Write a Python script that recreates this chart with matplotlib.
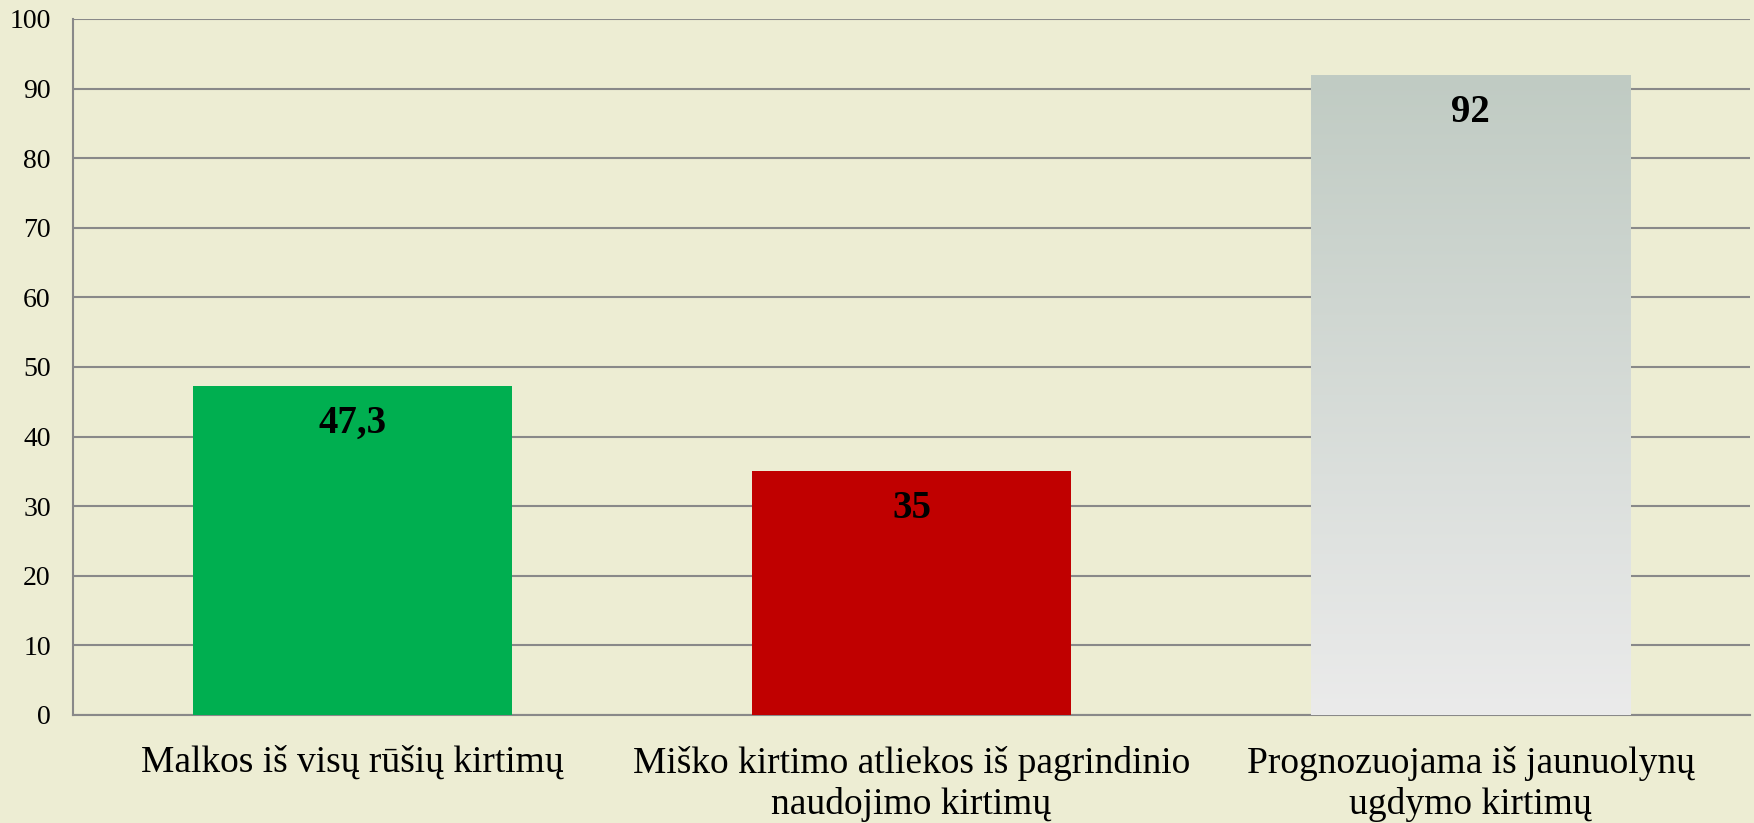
import numpy as np
import matplotlib.pyplot as plt
from matplotlib.colors import LinearSegmentedColormap

categories = ["Malkos iš visų rūšių kirtimų",
              "Miško kirtimo atliekos iš pagrindinio\nnaudojimo kirtimų",
              "Prognozuojama iš jaunuolynų\nugdymo kirtimų"]
values = [47.3, 35, 92]
value_labels = ["47,3", "35", "92"]
colors = ["#00AF50", "#C00000", "#C0CBC3"]

bg = "#EDEDD3"
plt.rcParams['font.family'] = ['Liberation Serif', 'DejaVu Serif']

fig = plt.figure(figsize=(17.54, 8.23), dpi=100, facecolor=bg)
ax = fig.add_axes([73/1754, 1 - 715/823, (1750-73)/1754, (715-19)/823])
ax.set_facecolor(bg)

x = np.arange(len(categories))
bars = ax.bar(x, values, width=0.571, color=colors, zorder=3)

# gradient fill for the last bar
grad = LinearSegmentedColormap.from_list("g", ["#EBEBEB", "#C0CBC3"])
b = bars[2]
img = ax.imshow(np.linspace(0, 1, 256).reshape(-1, 1), cmap=grad, origin="lower",
                aspect="auto", zorder=4,
                extent=[b.get_x(), b.get_x() + b.get_width(), 0, b.get_height()])
img.set_clip_path(b)

for rect, lab in zip(bars, value_labels):
    ax.annotate(lab, (rect.get_x() + rect.get_width() / 2, rect.get_height()),
                xytext=(0, -27), textcoords="offset points", ha="center", va="center",
                fontsize=28, fontweight="bold", zorder=5)

ax.set_xlim(-0.5, 2.5)
ax.set_ylim(0, 100)
ax.set_yticks(range(0, 101, 10))
ax.set_xticks(x)
ax.set_xticklabels(categories, fontsize=27, linespacing=1.25)
ax.tick_params(axis="y", length=0, pad=16, labelsize=20)
ax.tick_params(axis="x", length=0, pad=22)
ax.grid(axis="y", color="#898989", linewidth=1.5, zorder=1)
for s in ["top", "right"]:
    ax.spines[s].set_visible(False)
for s in ["left", "bottom"]:
    ax.spines[s].set_color("#898989")
    ax.spines[s].set_linewidth(1.5)

fig.savefig("out.png", dpi=100, facecolor=bg)
